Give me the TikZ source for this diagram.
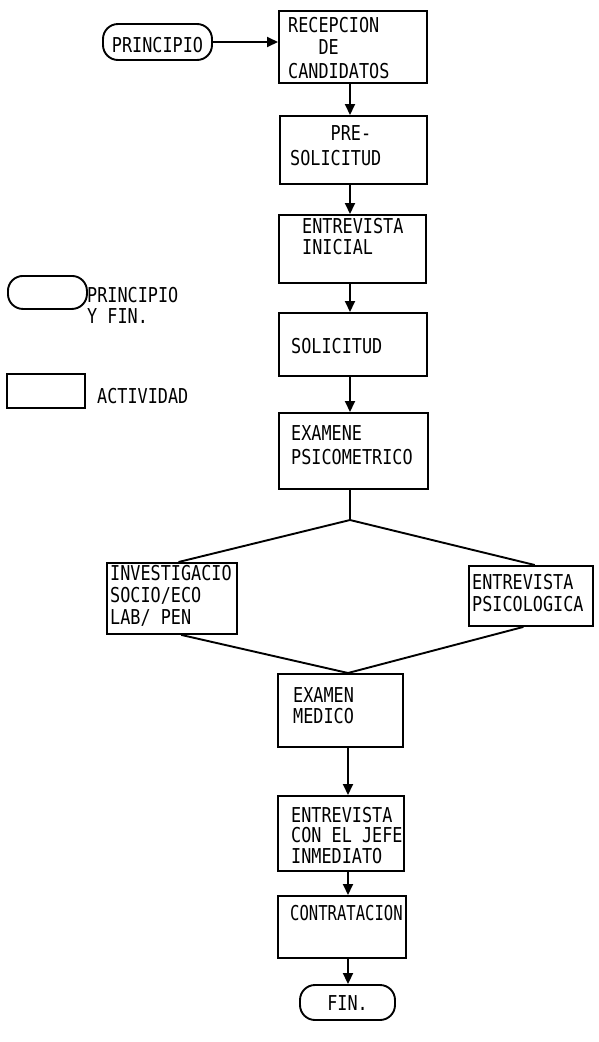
\documentclass[tikz,border=0pt]{standalone}
\usepackage{fontspec}
\newfontfamily\dmono{DejaVu Sans Mono}[FakeStretch=0.82]
\newfontfamily\dmonon{DejaVu Sans Mono}[FakeStretch=0.76]
\usetikzlibrary{arrows.meta,calc}
\begin{document}
\begin{tikzpicture}[x=1pt,y=-1pt,
  ln/.style={line width=1.9pt},
  box/.style={draw,line width=1.9pt,rectangle,inner sep=0pt,anchor=north west},
  term/.style={draw,line width=1.9pt,rectangle,rounded corners=15pt,inner sep=0pt,
    font=\dmono\fontsize{20.5}{22}\selectfont,text depth=0pt},
  txt/.style={inner sep=0pt,anchor=base west,font=\dmono\fontsize{20.5}{22}\selectfont},
  arr/.style={line width=1.9pt,-{Triangle[length=11pt,width=10pt]}},
]
\useasboundingbox (0,0) rectangle (598,1042);

% axes for vertical connectors
\coordinate (ax) at (350,0);
\coordinate (axb) at (348,0);

% terminals
\node[term,minimum width=109pt,minimum height=36pt,text height=21pt] (t0) at (157.5,42) {PRINCIPIO};
\node[term,minimum width=95pt,minimum height=35pt,text height=16pt] (tf) at (347.5,1002.5) {FIN.};

% activity boxes
\node[box,minimum width=148pt,minimum height=72pt] (b1) at (278,10) {};
\node[box,minimum width=147pt,minimum height=68pt] (b2) at (279,115) {};
\node[box,minimum width=147pt,minimum height=68pt] (b3) at (278,214) {};
\node[box,minimum width=148pt,minimum height=63pt] (b4) at (278,312) {};
\node[box,minimum width=149pt,minimum height=76pt] (b5) at (278,412) {};
\node[box,minimum width=130pt,minimum height=71pt] (b6) at (106,562) {};
\node[box,minimum width=124pt,minimum height=60pt] (b7) at (468,565) {};
\node[box,minimum width=125pt,minimum height=73pt] (b8) at (277,673) {};
\node[box,minimum width=126pt,minimum height=75pt] (b9) at (277,795) {};
\node[box,minimum width=128pt,minimum height=62pt] (b10) at (277,895) {};

% legend
\node[term,minimum width=79pt,minimum height=33pt,rounded corners=15pt,anchor=north west] (lt) at (7,275) {};
\node[box,minimum width=78pt,minimum height=34pt] (lr) at (6,373) {};

% texts
\node[txt] (x1) at (288,32) {\begin{tabular}[t]{@{}l@{}}RECEPCION\\[0.5pt]\phantom{RRR}DE\\[1.5pt]CANDIDATOS\end{tabular}};
\node[txt] (x2) at (290,140) {\begin{tabular}[t]{@{}l@{}}\phantom{SOLI}PRE-\\[3pt]SOLICITUD\end{tabular}};
\node[txt] (x3) at (302,233) {\begin{tabular}[t]{@{}l@{}}ENTREVISTA\\[-1pt]INICIAL\end{tabular}};
\node[txt] (x4) at (291,353) {SOLICITUD};
\node[txt] (x5) at (291,440) {\begin{tabular}[t]{@{}l@{}}EXAMENE\\[2pt]PSICOMETRICO\end{tabular}};
\node[txt] (x6) at (110,580) {\begin{tabular}[t]{@{}l@{}}INVESTIGACIO\\SOCIO/ECO\\LAB/ PEN\end{tabular}};
\node[txt] (x7) at (472,589) {\begin{tabular}[t]{@{}l@{}}ENTREVISTA\\PSICOLOGICA\end{tabular}};
\node[txt] (x8) at (293,702) {\begin{tabular}[t]{@{}l@{}}EXAMEN\\[-1pt]MEDICO\end{tabular}};
\node[txt] (x9) at (291,822) {\begin{tabular}[t]{@{}l@{}}ENTREVISTA\\[-1.5pt]CON EL JEFE\\[-1.5pt]INMEDIATO\end{tabular}};
\node[txt,font=\dmonon\fontsize{20.5}{22}\selectfont] (x10) at (290,920) {CONTRATACION};
\node[txt] (x11) at (87,302) {\begin{tabular}[t]{@{}l@{}}PRINCIPIO\\[-1pt]Y FIN.\end{tabular}};
\node[txt] (x12) at (97,403) {ACTIVIDAD};

% connectors
\draw[arr] (t0.east) -- (t0.east -| b1.west);
\draw[arr] (b1.south -| ax) -- (b2.north -| ax);
\draw[arr] (b2.south -| ax) -- (b3.north -| ax);
\draw[arr] (b3.south -| ax) -- (b4.north -| ax);
\draw[arr] (b4.south -| ax) -- (b5.north -| ax);
\coordinate (J) at (350,520);
\draw[ln] (b5.south -| J) -- (J);
\draw[ln] (J) -- ($(b6.north west)!0.55!(b6.north east)$);
\draw[ln] (J) -- ($(b7.north west)!0.53!(b7.north east)$);
\draw[ln] ($(b6.south west)!0.57!(b6.south east)$) -- (b8.north -| axb);
\draw[ln] ($(b7.south west)!0.44!(b7.south east)$) -- (b8.north -| axb);
\draw[arr] (b8.south -| axb) -- (b9.north -| axb);
\draw[arr] (b9.south -| axb) -- (b10.north -| axb);
\draw[arr] (b10.south -| axb) -- (tf.north -| axb);
\end{tikzpicture}
\end{document}
